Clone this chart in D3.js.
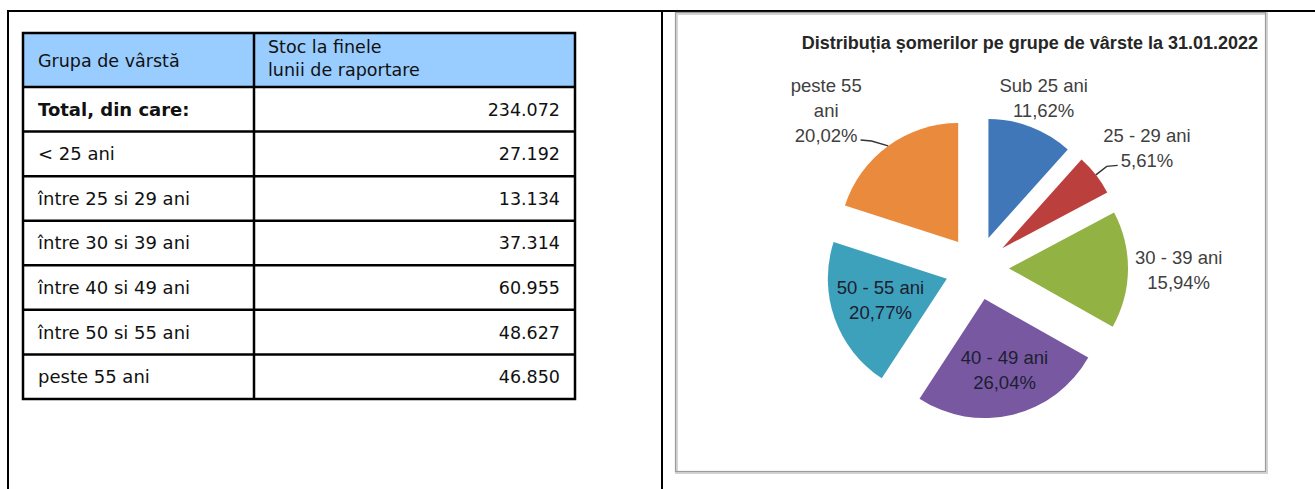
<!DOCTYPE html>
<html>
<head>
<meta charset="utf-8">
<script src="https://cdn.jsdelivr.net/npm/d3@7"></script>
<style>
  body { margin: 0; background: #fff; }
  svg { display: block; }
</style>
</head>
<body>
<div id="chart"></div>
<script>
// table data
var tableHeaders = ["Grupa de vârstă", "Stoc la finele", "lunii de raportare"];
var ageGroups = ["Total, din care:", "< 25 ani", "între 25 si 29 ani", "între 30 si 39 ani",
                 "între 40 si 49 ani", "între 50 si 55 ani", "peste 55 ani"];
var stockValues = [234072, 27192, 13134, 37314, 60955, 48627, 46850];

// pie data
var pieTitle = "Distribuția șomerilor pe grupe de vârste la 31.01.2022";
var pieCategories = ["Sub 25 ani", "25 - 29 ani", "30 - 39 ani", "40 - 49 ani", "50 - 55 ani", "peste 55 ani"];
var pieLabelLines = [["Sub 25 ani"], ["25 - 29 ani"], ["30 - 39 ani"], ["40 - 49 ani"], ["50 - 55 ani"], ["peste 55", "ani"]];
var pieValues = stockValues.slice(1);
var pieColors = ["#4077b9", "#bb3f3d", "#92b244", "#7859a1", "#3ea1bc", "#e98a3d"];

var W = 1315, H = 489;
var ro = d3.formatLocale({decimal: ",", thousands: ".", grouping: [3], currency: ["", ""]});
var fmtNum = ro.format(",d");
var fmtPct = ro.format(".2%");

var svg = d3.select("#chart").append("svg")
    .attr("width", W)
    .attr("height", H);

// outer layout frame
var frame = svg.append("g").attr("stroke", "#000").attr("stroke-width", 2);
frame.append("line").attr("x1", 7).attr("x2", W).attr("y1", 11).attr("y2", 11);
frame.append("line").attr("x1", 8).attr("x2", 8).attr("y1", 10).attr("y2", H);
frame.append("line").attr("x1", 662).attr("x2", 662).attr("y1", 10).attr("y2", H);

// ---------- table ----------
var tLeft = 23, tRight = 575, tMid = 254, tTop = 33, headH = 54, tBottom = 399;
var font = "'DejaVu Sans', Verdana, sans-serif";

var rowY = d3.scaleBand()
    .domain(ageGroups)
    .range([tTop + headH, tBottom]);

var table = svg.append("g");

table.append("rect")
    .attr("x", tLeft).attr("y", tTop)
    .attr("width", tRight - tLeft).attr("height", headH)
    .attr("fill", "#99ccff");

var hdr = table.append("g").style("font-family", font).style("font-size", "17.5px").attr("fill", "#111");
hdr.append("text").attr("x", tLeft + 15).attr("y", tTop + 34).text(tableHeaders[0]);
hdr.append("text").attr("x", tMid + 14).attr("y", tTop + 20).text(tableHeaders[1]);
hdr.append("text").attr("x", tMid + 14).attr("y", tTop + 43).text(tableHeaders[2]);

var rows = table.selectAll(".row")
    .data(ageGroups)
    .enter().append("g")
    .attr("class", "row")
    .attr("transform", function (d) { return "translate(0," + rowY(d) + ")"; });

rows.append("text")
    .attr("x", tLeft + 15)
    .attr("y", rowY.bandwidth() / 2 + 6.5)
    .style("font-family", font)
    .style("font-size", "18px")
    .style("font-weight", function (d, i) { return i == 0 ? "bold" : "normal"; })
    .attr("fill", "#111")
    .text(function (d) { return d; });

rows.append("text")
    .attr("x", tRight - 15)
    .attr("y", rowY.bandwidth() / 2 + 6.5)
    .attr("text-anchor", "end")
    .style("font-family", font)
    .style("font-size", "17.5px")
    .attr("fill", "#111")
    .text(function (d, i) { return fmtNum(stockValues[i]); });

// grid lines
var grid = table.append("g").attr("stroke", "#000").attr("stroke-width", 2.5).attr("fill", "none");
grid.append("rect").attr("x", tLeft).attr("y", tTop).attr("width", tRight - tLeft).attr("height", tBottom - tTop);
grid.append("line").attr("x1", tMid).attr("x2", tMid).attr("y1", tTop).attr("y2", tBottom);
grid.selectAll(".hl")
    .data(ageGroups)
    .enter().append("line")
    .attr("x1", tLeft).attr("x2", tRight)
    .attr("y1", function (d) { return rowY(d); })
    .attr("y2", function (d) { return rowY(d); });

// ---------- pie chart ----------
var panel = svg.append("g");
panel.append("rect")
    .attr("x", 676.5).attr("y", 13.5).attr("width", 590).attr("height", 459)
    .attr("fill", "#fff").attr("stroke", "#d4d4d4").attr("stroke-width", 3);
panel.append("rect")
    .attr("x", 675.5).attr("y", 12.5).attr("width", 590).attr("height", 459)
    .attr("fill", "none").attr("stroke", "#9c9c9c").attr("stroke-width", 1.2);

panel.append("text")
    .attr("x", 1258).attr("y", 49)
    .attr("text-anchor", "end")
    .style("font-family", "'Liberation Sans', Arial, sans-serif")
    .style("font-size", "18px")
    .style("font-weight", "bold")
    .attr("fill", "#262626")
    .text(pieTitle);

var cx = 977, cy = 268, radius = 119, explode = 32;
var total = d3.sum(pieValues);

var pie = d3.pie().sort(null).value(function (d) { return d; });
var arc = d3.arc().innerRadius(0).outerRadius(radius);
var arcs = pie(pieValues);

function midAngle(d) { return (d.startAngle + d.endAngle) / 2; }
function apex(d) {
    var a = midAngle(d);
    return [Math.sin(a) * explode, -Math.cos(a) * explode];
}

var pieG = panel.append("g").attr("transform", "translate(" + cx + "," + cy + ")");

pieG.selectAll(".slice")
    .data(arcs)
    .enter().append("path")
    .attr("class", "slice")
    .attr("transform", function (d) { return "translate(" + apex(d) + ")"; })
    .attr("d", arc)
    .attr("fill", function (d, i) { return pieColors[i]; });

// label placement: inside for the two big bottom slices, outside for the rest
var insideLabel = [false, false, false, true, true, false];
var labelNudge = [[0, 4], [23, -5], [15, 0], [3, 2], [1, -2], [-41, -7]];
var withLeader = [false, true, false, false, false, true];
var lineGap = 25;

var labels = pieG.selectAll(".plabel")
    .data(arcs)
    .enter().append("g")
    .attr("class", "plabel")
    .attr("transform", function (d, i) {
        var a = midAngle(d), p = apex(d);
        var k = insideLabel[i] ? radius * 0.6 : radius * 1.3;
        var x = p[0] + Math.sin(a) * k + labelNudge[i][0];
        var y = p[1] - Math.cos(a) * k + labelNudge[i][1];
        return "translate(" + x + "," + y + ")";
    });

labels.each(function (d, i) {
    var lines = pieLabelLines[i].concat([fmtPct(d.value / total)]);
    var g = d3.select(this);
    var y0 = -(lines.length - 1) * lineGap / 2;
    g.selectAll("text")
        .data(lines)
        .enter().append("text")
        .attr("x", 0)
        .attr("y", function (t, j) { return y0 + j * lineGap + 6.5; })
        .attr("text-anchor", "middle")
        .style("font-family", "'Liberation Sans', Arial, sans-serif")
        .style("font-size", "18.5px")
        .attr("fill", insideLabel[i] ? "#1c2030" : "#404040")
        .text(function (t) { return t; });
});

// leader lines from the slice edge to the percentage text
var leader = d3.line();
labels.each(function (d, i) {
    if (!withLeader[i]) return;
    var g = d3.select(this);
    var tr = g.attr("transform").match(/translate\(([^,]+),([^)]+)\)/);
    var lx = +tr[1], ly = +tr[2];
    var last = g.selectAll("text").nodes().pop();
    var w = last.getComputedTextLength();
    var lastY = +d3.select(last).attr("y") - 6.5;
    var a = midAngle(d), p = apex(d);
    var p0 = [p[0] + Math.sin(a) * radius, p[1] - Math.cos(a) * radius];
    var side = p0[0] < lx ? -1 : 1;
    var p2 = [lx + side * (w / 2 + 3), ly + lastY + 5];
    var p1 = [p2[0] + side * 11, p2[1] + 1];
    pieG.append("path")
        .attr("d", leader([p0, p1, p2]))
        .attr("fill", "none")
        .attr("stroke", "#333")
        .attr("stroke-width", 1.4);
});
</script>
</body>
</html>
